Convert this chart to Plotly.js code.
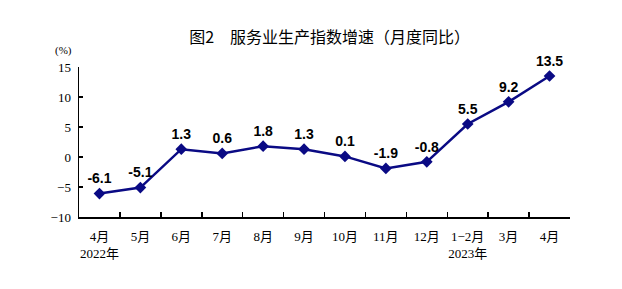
<!DOCTYPE html>
<html><head><meta charset="utf-8">
<script src="https://cdn.plot.ly/plotly-3.0.1.min.js"></script>
<style>body{margin:0;background:#fff}#c{width:622px;height:289px}</style>
</head><body><div id="c"></div>
<script>
var categories = ["4月<br>2022年","5月","6月","7月","8月","9月","10月","11月","12月","1−2月<br>2023年","3月","4月"];
var values = [-6.1,-5.1,1.3,0.6,1.8,1.3,0.1,-1.9,-0.8,5.5,9.2,13.5];
var labels = values.map(function(v){return v.toFixed(1);});
var xs = categories.map(function(_,i){return i;});
var trace = {
  x: xs, y: values, type: 'scatter', mode: 'lines+markers+text',
  text: labels, textposition: 'top center',
  textfont: {family: 'Liberation Sans, Arial, sans-serif', size: 14, color: '#000', weight: 'bold'},
  line: {color: '#0a0a84', width: 2.5},
  marker: {symbol: 'diamond', size: 9, color: '#0a0a84'},
  cliponaxis: false, hoverinfo: 'none'
};
var layout = {
  width: 622, height: 289,
  margin: {l: 79, r: 52, t: 67, b: 72},
  paper_bgcolor: '#fff', plot_bgcolor: '#fff',
  showlegend: false,
  title: {text: '图2　服务业生产指数增速（月度同比）', x: 0.53, xanchor: 'center', y: 0.87, yanchor: 'middle',
    font: {family: 'Noto Sans CJK SC, sans-serif', size: 16, color: '#000', weight: 'normal'}},
  xaxis: {
    range: [-0.5, 11.5], tickmode: 'array', tickvals: xs, ticktext: categories,
    showgrid: false, zeroline: false, showline: true, linecolor: '#000', linewidth: 1.5,
    ticks: '', ticklabelstandoff: 7, fixedrange: true,
    tickfont: {family: 'Liberation Serif, Noto Sans CJK SC, serif', size: 13, color: '#000'}
  },
  xaxis2: {
    overlaying: 'x', range: [-0.5, 11.5], tickmode: 'array',
    tickvals: [0.5,1.5,2.5,3.5,4.5,5.5,6.5,7.5,8.5,9.5,10.5],
    showticklabels: false, ticks: 'inside', ticklen: 5, tickcolor: '#000', tickwidth: 1.5,
    showgrid: false, zeroline: false, showline: false, anchor: 'y', side: 'bottom'
  },
  yaxis: {
    range: [-10, 15], tickvals: [-10,-5,0,5,10,15], ticktext: ['−10','−5','0','5','10','15'],
    showgrid: false, zeroline: false, showline: true, linecolor: '#000', linewidth: 1.5,
    ticks: 'inside', ticklen: 4, tickcolor: '#000', tickwidth: 1.5, ticklabelstandoff: 4,
    tickfont: {family: 'Liberation Serif, serif', size: 13, color: '#000'}
  },
  annotations: [{text: '(%)', xref: 'paper', yref: 'paper', x: -0.01, y: 1.11, xanchor: 'right', yanchor: 'middle',
    showarrow: false, font: {family: 'Liberation Serif, serif', size: 11, color: '#000'}}]
};
var dummy = {x: [0], y: [0], xaxis: 'x2', yaxis: 'y', mode: 'markers', marker: {opacity: 0}, hoverinfo: 'none'};
Plotly.newPlot('c', [trace, dummy], layout, {displayModeBar: false, staticPlot: true});
</script></body></html>
